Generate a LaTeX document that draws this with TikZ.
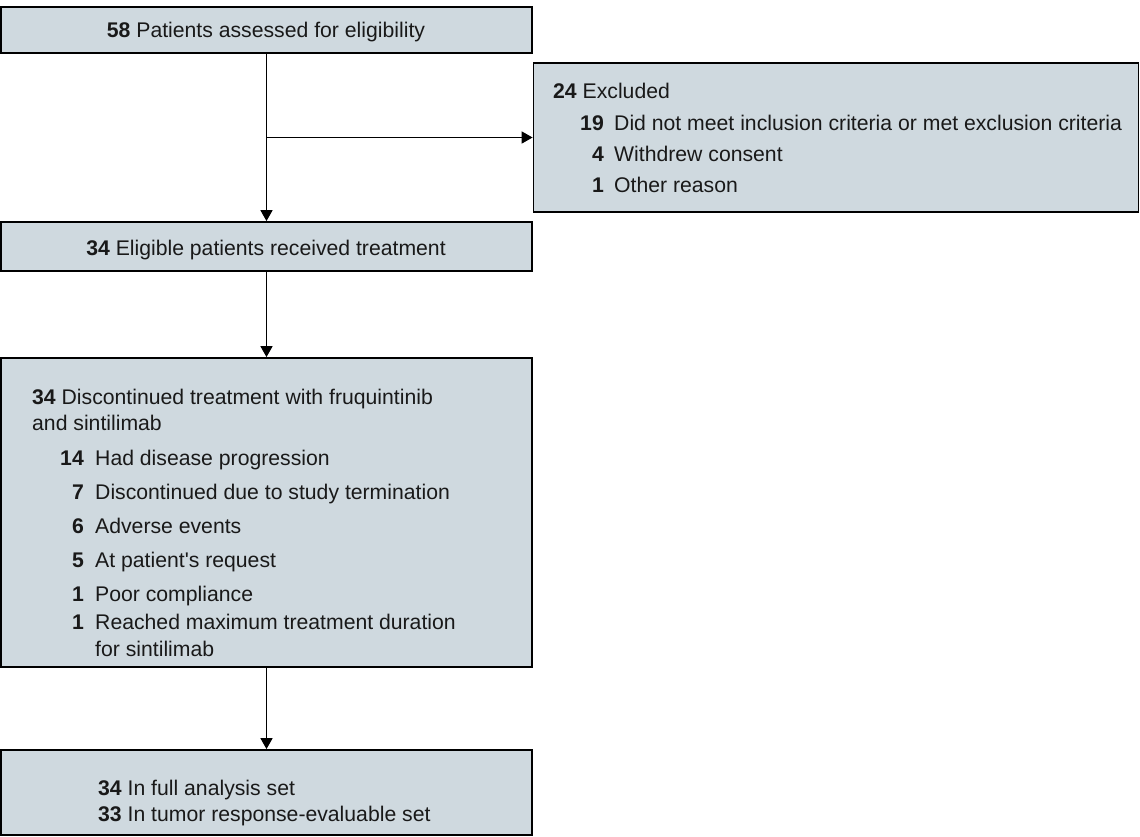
\documentclass[tikz,border=0pt]{standalone}
\usepackage{fontspec}
\setmainfont{Liberation Sans}
\usetikzlibrary{arrows.meta}
\definecolor{boxfill}{RGB}{207,217,223}
\tikzset{
  box/.style={draw=black, line width=1.8pt, fill=boxfill, rectangle, inner sep=0pt},
  txt/.style={inner sep=0pt, font=\fontsize{21.2pt}{25pt}\selectfont, text=black!90},
  num/.style={txt, anchor=base east, font=\fontsize{21.2pt}{25pt}\selectfont\bfseries},
  lbl/.style={txt, anchor=base west},
  conn/.style={line width=1.6pt, -{Triangle[length=11pt,width=12pt]}}
}
\begin{document}
\begin{tikzpicture}[x=1pt,y=-1pt]
\useasboundingbox (0,0) rectangle (1140,836);
% boxes
\node[box, minimum width=531pt, minimum height=46pt] (b1) at (266.5,30) {};
\node[box, minimum width=605pt, minimum height=149pt] (ex) at (836,137.5) {};
\node[box, minimum width=531pt, minimum height=49pt] (b2) at (266.5,246.5) {};
\node[box, minimum width=531pt, minimum height=309pt] (b3) at (266.5,512.5) {};
\node[box, minimum width=531pt, minimum height=85pt] (b4) at (266.5,792.5) {};
% box 1
\node[txt, anchor=base] (t1) at (266,37.5) {\textbf{58} Patients assessed for eligibility};
% excluded
\node[lbl] (e0) at (553,98) {\textbf{24} Excluded};
\node[num] (e1n) at (604,130) {19};
\node[lbl] (e1) at (614,130) {Did not meet inclusion criteria or met exclusion criteria};
\node[num] (e2n) at (604,161) {4};
\node[lbl] (e2) at (614,161) {Withdrew consent};
\node[num] (e3n) at (604,192) {1};
\node[lbl] (e3) at (614,192) {Other reason};
% box 2
\node[txt, anchor=base] (t2) at (266,255) {\textbf{34} Eligible patients received treatment};
% box 3
\node[lbl] (d0) at (32,404) {\textbf{34} Discontinued treatment with fruquintinib};
\node[lbl] (d0b) at (32,430) {and sintilimab};
\node[num] (d1n) at (84,465) {14};
\node[lbl] (d1) at (95,465) {Had disease progression};
\node[num] (d2n) at (84,499) {7};
\node[lbl] (d2) at (95,499) {Discontinued due to study termination};
\node[num] (d3n) at (84,533) {6};
\node[lbl] (d3) at (95,533) {Adverse events};
\node[num] (d4n) at (84,567) {5};
\node[lbl] (d4) at (95,567) {At patient\textquotesingle s request};
\node[num] (d5n) at (84,601) {1};
\node[lbl] (d5) at (95,601) {Poor compliance};
\node[num] (d6n) at (84,629) {1};
\node[lbl] (d6) at (95,629) {Reached maximum treatment duration};
\node[lbl] (d6b) at (95,656) {for sintilimab};
% box 4
\node[lbl] (f1) at (98,795) {\textbf{34} In full analysis set};
\node[lbl] (f2) at (98,821) {\textbf{33} In tumor response-evaluable set};
% connectors
\coordinate (br) at (b1.south |- ex.west);
\draw[conn] (b1.south) -- (b2.north);
\draw[conn] (br) -- (ex.west);
\draw[conn] (b2.south) -- (b3.north);
\draw[conn] (b3.south) -- (b4.north);
\end{tikzpicture}
\end{document}
